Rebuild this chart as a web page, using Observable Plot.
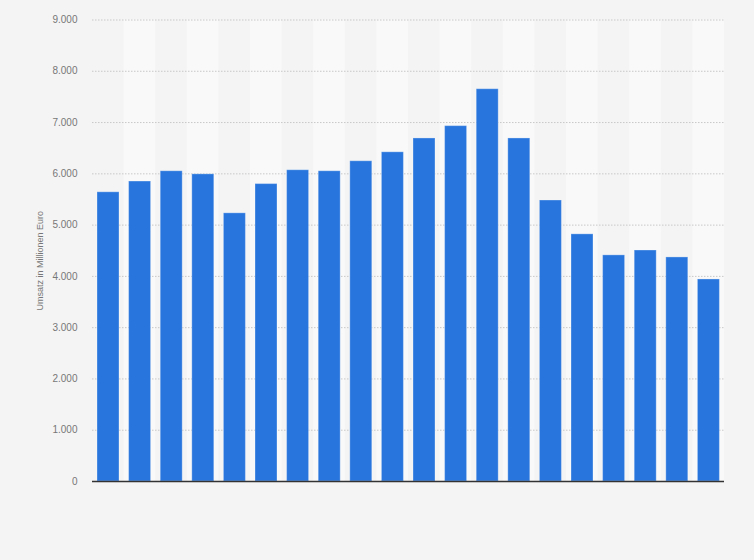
<!DOCTYPE html>
<html>
<head>
<meta charset="utf-8">
<script src="https://cdn.jsdelivr.net/npm/d3@7"></script>
<script src="https://cdn.jsdelivr.net/npm/@observablehq/plot@0.6"></script>
<style>
  html, body { margin: 0; padding: 0; background: #f4f4f4; }
  #chart svg { display: block; }
</style>
</head>
<body>
<div id="chart"></div>
<script>
const categories = ["1","2","3","4","5","6","7","8","9","10","11","12","13","14","15","16","17","18","19","20"];
const values = [5640, 5850, 6050, 5990, 5230, 5800, 6070, 6050, 6245, 6420, 6690, 6930, 7650, 6690, 5480, 4820, 4410, 4505, 4370, 3940];
const yTicks = [0, 1000, 2000, 3000, 4000, 5000, 6000, 7000, 8000, 9000];
const yLabel = "Umsatz in Millionen Euro";

const data = categories.map((c, i) => ({cat: c, value: values[i], i}));
const bands = data.filter(d => d.i % 2 === 1);

const de = d3.formatLocale({decimal: ",", thousands: ".", grouping: [3], currency: ["", " €"]});
const fmt = de.format(",");

const chart = Plot.plot({
  width: 754,
  height: 560,
  marginLeft: 92,
  marginRight: 30,
  marginTop: 19.5,
  marginBottom: 79,
  style: {background: "#f4f4f4", fontFamily: "Liberation Sans, Arial, sans-serif", fontSize: "10px", color: "#777"},
  x: {domain: categories, padding: 0, round: false, axis: null},
  y: {domain: [0, 9000], ticks: yTicks, tickFormat: fmt, label: null},
  marks: [
    Plot.barY(bands, {x: "cat", y1: 0, y2: 9000, fill: "#f9f9f9"}),
    Plot.gridY(yTicks.filter(t => t > 0), {stroke: "#c8c8c8", strokeOpacity: 1, strokeDasharray: "1.5,1.5", strokeWidth: 1}),
    Plot.axisY({ticks: yTicks, tickFormat: fmt, tickSize: 0, tickPadding: 15, label: null, fill: "#777", fontSize: 10}),
    Plot.barY(data, {x: "cat", y: "value", fill: "#2876dd", stroke: "#ffffff", strokeOpacity: 0.3, strokeWidth: 1, insetLeft: 5, insetRight: 4.6}),
    Plot.ruleY([0], {stroke: "#333", strokeWidth: 1.3}),
    Plot.text([yLabel], {frameAnchor: "left", textAnchor: "middle", dx: -52, dy: 10, rotate: -90, fill: "#777", fontSize: 9})
  ]
});
document.getElementById("chart").appendChild(chart);
</script>
</body>
</html>
